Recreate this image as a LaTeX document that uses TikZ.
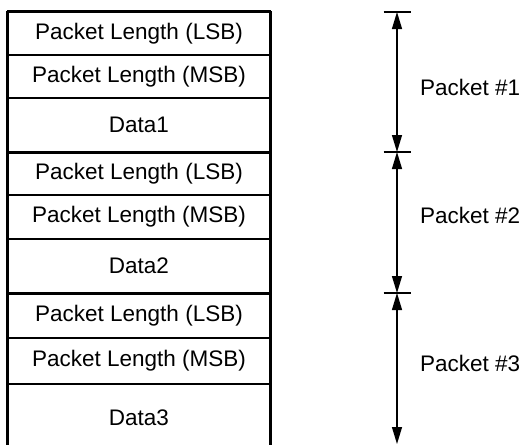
\documentclass[tikz,border=0pt]{standalone}
\usepackage{fontspec}
\setmainfont{Liberation Sans}
\usetikzlibrary{arrows.meta}

\begin{document}
\begin{tikzpicture}[x=1pt, y=-1pt, >={Triangle[width=10pt,length=17pt]},
    field/.style={draw, line width=1.2pt, minimum width=262pt, inner sep=0pt,
      font=\fontsize{22.5}{25}\selectfont},
    pktlabel/.style={anchor=west, inner sep=0pt, font=\fontsize{22.5}{25}\selectfont},
    tick/.style={line width=1.2pt}]
    \useasboundingbox (0,0) rectangle (523,445);

    % Packet 1
    \node[field, minimum height=43pt] (lsb1) at (139,33.5) {Packet Length (LSB)};
    \node[field, minimum height=43pt] (msb1) at (139,76.5) {Packet Length (MSB)};
    \node[field, minimum height=54pt] (data1) at (139,125) {Data1};

    % Packet 2
    \node[field, minimum height=43pt] (lsb2) at (139,173.5) {Packet Length (LSB)};
    \node[field, minimum height=44pt] (msb2) at (139,217) {Packet Length (MSB)};
    \node[field, minimum height=54pt] (data2) at (139,266) {Data2};

    % Packet 3 (runs off the bottom)
    \node[field, minimum height=45pt] (lsb3) at (139,315.5) {Packet Length (LSB)};
    \node[field, minimum height=46pt] (msb3) at (139,361) {Packet Length (MSB)};
    \node[field, minimum height=68pt] (data3) at (139,418) {Data3};

    % Outer frame and packet boundaries
    \draw[line width=2pt] (lsb1.north west) -- (lsb1.north east);
    \draw[line width=2pt] (lsb1.north west) -- (data3.south west);
    \draw[line width=2pt] (lsb1.north east) -- (data3.south east);
    \draw[line width=2.6pt] (data1.south west) -- (data1.south east);
    \draw[line width=2.6pt] (data2.south west) -- (data2.south east);

    % Dimension marks
    \coordinate (t1) at (397,12);
    \coordinate (t2) at (397,152);
    \coordinate (t3) at (397,293);
    \coordinate (t4) at (397,444);
    \draw[tick] ([xshift=-13.5pt]t1) -- ([xshift=13.5pt]t1);
    \draw[tick] ([xshift=-13.5pt]t2) -- ([xshift=13.5pt]t2);
    \draw[tick] ([xshift=-13.5pt]t3) -- ([xshift=13.5pt]t3);

    \draw[<->, line width=1.2pt] (t1) -- (t2);
    \draw[<->, line width=1.2pt] (t2) -- (t3);
    \draw[<->, line width=1.2pt] (t3) -- (t4);

    \node[pktlabel] (pk1) at (420,87) {Packet \#1};
    \node[pktlabel] (pk2) at (420,215) {Packet \#2};
    \node[pktlabel] (pk3) at (420,363) {Packet \#3};
\end{tikzpicture}
\end{document}
